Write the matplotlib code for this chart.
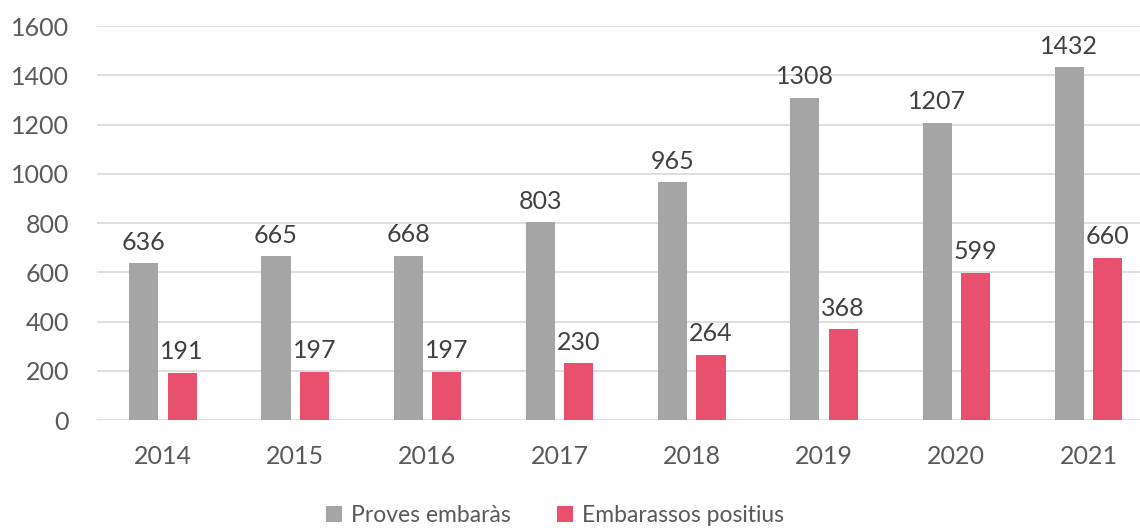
import matplotlib.pyplot as plt
import numpy as np

plt.rcParams['font.family'] = ['Lato', 'DejaVu Sans']

years = ["2014", "2015", "2016", "2017", "2018", "2019", "2020", "2021"]
proves = [636, 665, 668, 803, 965, 1308, 1207, 1432]
positius = [191, 197, 197, 230, 264, 368, 599, 660]

gris = "#A5A5A5"
rosa = "#E8506E"
text_col = "#595959"

fig = plt.figure(figsize=(11.4, 5.28), dpi=100)
ax = fig.add_axes([0.085, 0.2045, 0.915, 0.7462])

x = np.arange(len(years))
w = 0.22
b1 = ax.bar(x - 0.145, proves, w, color=gris, label="Proves embaràs", zorder=3)
b2 = ax.bar(x + 0.145, positius, w, color=rosa, label="Embarassos positius", zorder=3)

for bars in (b1, b2):
    for bar in bars:
        h = bar.get_height()
        ax.annotate(f"{h:.0f}", (bar.get_x() + bar.get_width() / 2, h),
                    xytext=(0, 7), textcoords="offset points",
                    ha="center", va="bottom", fontsize=18, color="#404040")

ax.set_ylim(0, 1600)
ax.set_yticks(range(0, 1601, 200))
ax.set_xlim(-0.5, 7.39)
ax.set_xticks(x)
ax.set_xticklabels(years)
ax.grid(True, axis="y", color="#D9D9D9", linewidth=1.2, zorder=0)
for s in ax.spines.values():
    s.set_visible(False)
ax.tick_params(length=0, labelsize=18, colors=text_col)
ax.tick_params(axis="x", pad=18)
ax.tick_params(axis="y", pad=20)

fig.legend(loc="lower center", bbox_to_anchor=(0.487, -0.035), ncol=2, frameon=False,
           fontsize=16.5, labelcolor=text_col, handlelength=0.7, handleheight=0.7,
           columnspacing=2.0, handletextpad=0.4)

fig.savefig("out.png", dpi=100)
